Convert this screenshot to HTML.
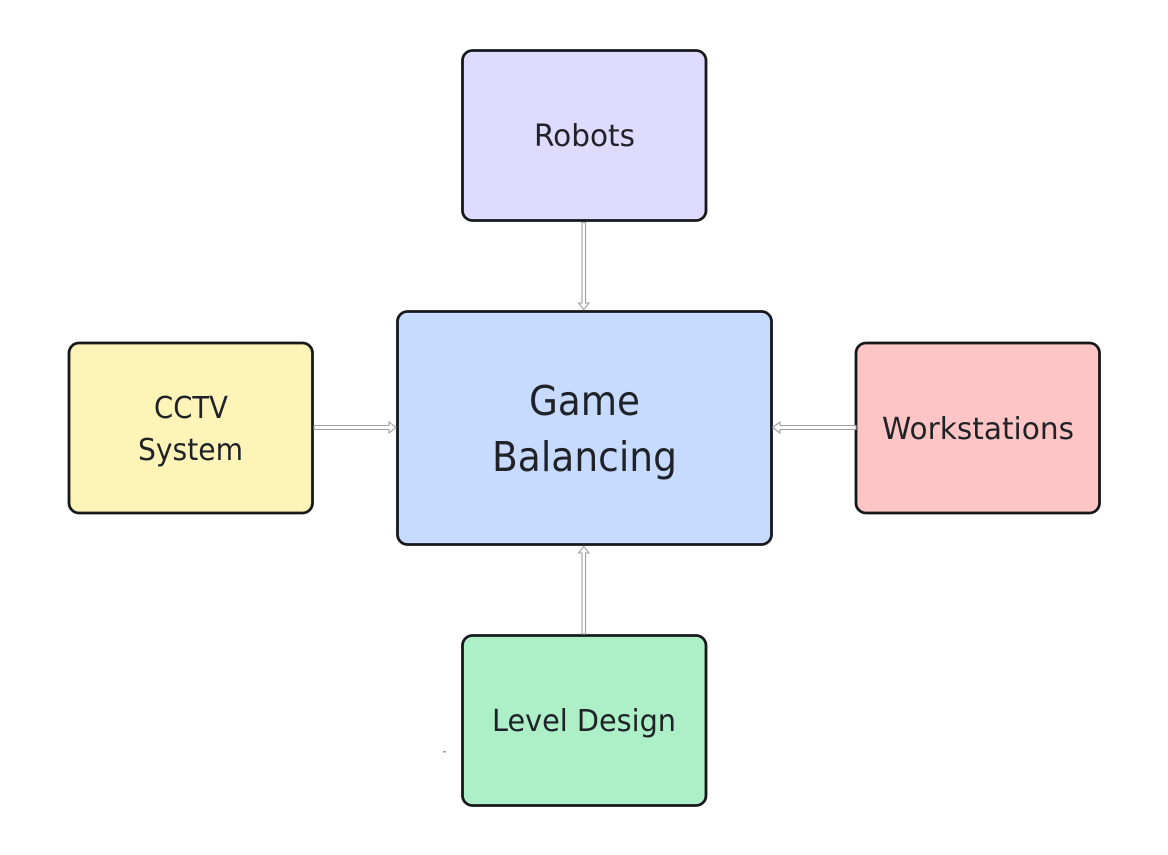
<!DOCTYPE html>
<html><head><meta charset="utf-8"><style>
html,body{margin:0;padding:0;background:#fff;width:1168px;height:855px;overflow:hidden}
svg{display:block}
text{font-family:"DejaVu Sans","Liberation Sans",sans-serif;fill:#1f2328}
</style></head><body>
<svg width="1168" height="855" viewBox="0 0 1168 855" xmlns="http://www.w3.org/2000/svg">
<g stroke="#16181c" stroke-width="2.8">
<rect x="462.500" y="50.500" width="243.500" height="170" rx="10" fill="#dfdbff"/>
<rect x="397.500" y="311.500" width="374" height="233" rx="10" fill="#c6dbff"/>
<rect x="69" y="343" width="243.500" height="170" rx="10" fill="#fff4b8"/>
<rect x="856" y="343" width="243.500" height="170" rx="10" fill="#ffc5c5"/>
<rect x="462.500" y="635.500" width="243.500" height="170" rx="10" fill="#adf0c8"/>
</g>
<g fill="#fff" stroke="#a0a0a0" stroke-width="1.100">
<path d="M582 222.500H585.500V303L589 303L583.800 309.500L578.500 303L582 303Z"/>
<path d="M582 634V553L578.500 553L583.800 546.500L589 553L585.500 553V634Z"/>
<path d="M314 425.500H389V422L396 427.500L389 433V429.500H314Z"/>
<path d="M856 425.500H780V422L772.500 427.500L780 433V429.500H856Z"/>
</g>
<rect x="443" y="751" width="3" height="1.500" fill="#999"/>
<g font-size="30">
<text x="534" y="146" textLength="101" lengthAdjust="spacingAndGlyphs">Robots</text>
<text x="154" y="418" textLength="74" lengthAdjust="spacingAndGlyphs">CCTV</text>
<text x="138" y="460" textLength="105" lengthAdjust="spacingAndGlyphs">System</text>
<text x="882" y="439" textLength="192" lengthAdjust="spacingAndGlyphs">Workstations</text>
<text x="492" y="731" textLength="184" lengthAdjust="spacingAndGlyphs">Level Design</text>
</g>
<g font-size="41">
<text x="529" y="415" textLength="111" lengthAdjust="spacingAndGlyphs">Game</text>
<text x="492" y="471" textLength="185" lengthAdjust="spacingAndGlyphs">Balancing</text>
</g>
</svg>
</body></html>
